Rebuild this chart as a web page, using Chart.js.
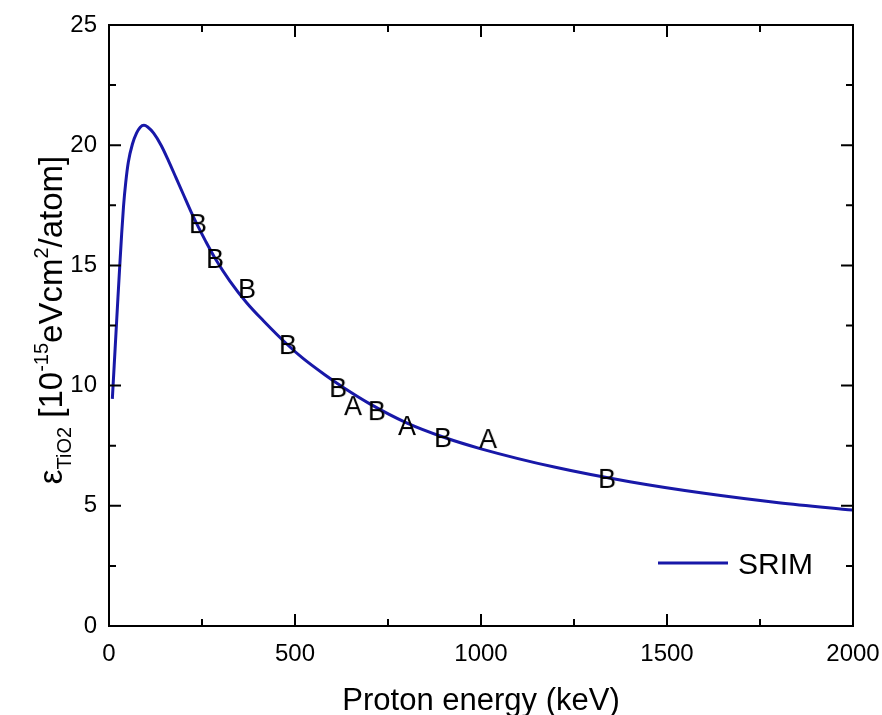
<!DOCTYPE html>
<html>
<head>
<meta charset="utf-8">
<title>Stopping cross section TiO2</title>
<script src="https://cdn.jsdelivr.net/npm/chart.js@4.4.0/dist/chart.umd.min.js"></script>
<style>
  html, body { margin: 0; padding: 0; background: #fff; }
  #wrap { width: 882px; height: 715px; }
</style>
</head>
<body>
<div id="wrap"><canvas id="chart" width="882" height="715"></canvas></div>
<script>
/* ---- data ---- */
const energy = [9, 14, 19, 24, 29, 34, 39, 45, 52, 63, 74, 84, 94, 104, 120, 140, 160, 180, 200, 220, 240, 260, 285, 325, 370, 415, 480, 520, 580, 630, 700, 800, 900, 1000, 1200, 1400, 1600, 1800, 2000];
const srim   = [9.45, 10.85, 12.25, 13.65, 15.0, 16.3, 17.45, 18.45, 19.3, 20.05, 20.5, 20.75, 20.83, 20.76, 20.5, 20.0, 19.35, 18.65, 17.95, 17.25, 16.6, 16.0, 15.3, 14.35, 13.45, 12.7, 11.7, 11.15, 10.45, 9.92, 9.25, 8.45, 7.85, 7.37, 6.6, 6.0, 5.52, 5.13, 4.82];

const setBEnergy = [239, 285, 371, 481, 616, 720, 898, 1339];
const setBValue  = [16.76, 15.31, 14.06, 11.73, 9.94, 8.98, 7.86, 6.16];
const setAEnergy = [656, 801, 1019];
const setAValue  = [9.19, 8.36, 7.82];

const xTickValues = [0, 500, 1000, 1500, 2000];
const yTickValues = [0, 5, 10, 15, 20, 25];

const FONT = "'Liberation Sans', Arial, sans-serif";
const BLUE = '#1818a8';

const pts = (xs, ys) => xs.map((v, i) => ({ x: v, y: ys[i] }));

// letter used as a point symbol
function letterSymbol(ch) {
  const c = document.createElement('canvas');
  c.width = 36; c.height = 36;
  const g = c.getContext('2d');
  g.font = `27px ${FONT}`;
  g.fillStyle = '#000';
  g.textAlign = 'center';
  g.textBaseline = 'alphabetic';
  g.fillText(ch, 18, 18 + 9.5);
  return c;
}

// frame + inward major/minor ticks on all four sides
const framePlugin = {
  id: 'frame',
  afterDraw(chart) {
    const { ctx, chartArea: a, scales: { x, y } } = chart;
    ctx.save();
    ctx.strokeStyle = '#000';
    ctx.lineWidth = 2;
    ctx.strokeRect(a.left, a.top, a.right - a.left, a.bottom - a.top);
    const minors = v => v.slice(1).map((t, i) => (t + v[i]) / 2);
    ctx.beginPath();
    xTickValues.forEach(v => {
      const px = x.getPixelForValue(v);
      ctx.moveTo(px, a.bottom); ctx.lineTo(px, a.bottom - 12);
      ctx.moveTo(px, a.top);    ctx.lineTo(px, a.top + 12);
    });
    minors(xTickValues).forEach(v => {
      const px = x.getPixelForValue(v);
      ctx.moveTo(px, a.bottom); ctx.lineTo(px, a.bottom - 7);
      ctx.moveTo(px, a.top);    ctx.lineTo(px, a.top + 7);
    });
    yTickValues.forEach(v => {
      const py = y.getPixelForValue(v);
      ctx.moveTo(a.left, py);  ctx.lineTo(a.left + 12, py);
      ctx.moveTo(a.right, py); ctx.lineTo(a.right - 12, py);
    });
    minors(yTickValues).forEach(v => {
      const py = y.getPixelForValue(v);
      ctx.moveTo(a.left, py);  ctx.lineTo(a.left + 7, py);
      ctx.moveTo(a.right, py); ctx.lineTo(a.right - 7, py);
    });
    ctx.stroke();
    ctx.restore();
  }
};

// axis titles (y title needs sub/superscripts) and the SRIM legend
const textPlugin = {
  id: 'texts',
  afterDraw(chart) {
    const { ctx, chartArea: a } = chart;
    ctx.save();
    ctx.fillStyle = '#000';
    ctx.textBaseline = 'alphabetic';

    // x title
    ctx.font = `31px ${FONT}`;
    ctx.textAlign = 'center';
    ctx.fillText('Proton energy (keV)', (a.left + a.right) / 2, 710);

    // y title, rotated
    const parts = [
      { t: 'ε', s: 33, dy: 0 },
      { t: 'TiO2', s: 20, dy: 9 },
      { t: ' [10', s: 33, dy: 0 },
      { t: '-15', s: 20, dy: -14 },
      { t: 'eVcm', s: 33, dy: 0 },
      { t: '2', s: 20, dy: -14 },
      { t: '/atom]', s: 33, dy: 0 }
    ];
    ctx.textAlign = 'left';
    let total = 0;
    parts.forEach(p => { ctx.font = `${p.s}px ${FONT}`; p.w = ctx.measureText(p.t).width; total += p.w; });
    ctx.translate(62, 320);
    ctx.rotate(-Math.PI / 2);
    let cx = -total / 2;
    parts.forEach(p => {
      ctx.font = `${p.s}px ${FONT}`;
      ctx.fillText(p.t, cx, p.dy);
      cx += p.w;
    });
    ctx.setTransform(1, 0, 0, 1, 0, 0);

    // legend
    const ds = chart.data.datasets[0];
    const ly = 563;
    ctx.strokeStyle = ds.borderColor;
    ctx.lineWidth = 3;
    ctx.beginPath();
    ctx.moveTo(a.right - 195, ly); ctx.lineTo(a.right - 125, ly);
    ctx.stroke();
    ctx.font = `30px ${FONT}`;
    ctx.fillText(ds.label, a.right - 115, ly + 11);
    ctx.restore();
  }
};

new Chart(document.getElementById('chart'), {
  type: 'scatter',
  data: {
    datasets: [
      {
        label: 'SRIM',
        data: pts(energy, srim),
        showLine: true,
        borderColor: BLUE,
        borderWidth: 3,
        pointRadius: 0,
        cubicInterpolationMode: 'monotone',
        fill: false,
        order: 2
      },
      {
        label: 'B',
        data: pts(setBEnergy, setBValue),
        pointStyle: letterSymbol('B'),
        pointRadius: 10,
        order: 1
      },
      {
        label: 'A',
        data: pts(setAEnergy, setAValue),
        pointStyle: letterSymbol('A'),
        pointRadius: 10,
        order: 1
      }
    ]
  },
  options: {
    responsive: false,
    animation: false,
    layout: { padding: { top: 25, right: 29, left: 0, bottom: 0 } },
    plugins: { legend: { display: false }, tooltip: { enabled: false } },
    scales: {
      x: {
        type: 'linear', min: 0, max: 2000,
        afterBuildTicks: s => { s.ticks = xTickValues.map(v => ({ value: v })); },
        afterFit: s => { s.height = 89; s.paddingLeft = 0; s.paddingRight = 0; },
        grid: { display: false, drawTicks: false },
        border: { display: false },
        ticks: { color: '#000', font: { family: FONT, size: 24 }, padding: 14, maxRotation: 0, callback: v => String(v) }
      },
      y: {
        type: 'linear', min: 0, max: 25,
        afterBuildTicks: s => { s.ticks = yTickValues.map(v => ({ value: v })); },
        afterFit: s => { s.width = 109; s.paddingTop = 0; s.paddingBottom = 0; },
        grid: { display: false, drawTicks: false },
        border: { display: false },
        ticks: { color: '#000', font: { family: FONT, size: 24 }, padding: 12, callback: v => String(v) }
      }
    }
  },
  plugins: [framePlugin, textPlugin]
});
</script>
</body>
</html>
